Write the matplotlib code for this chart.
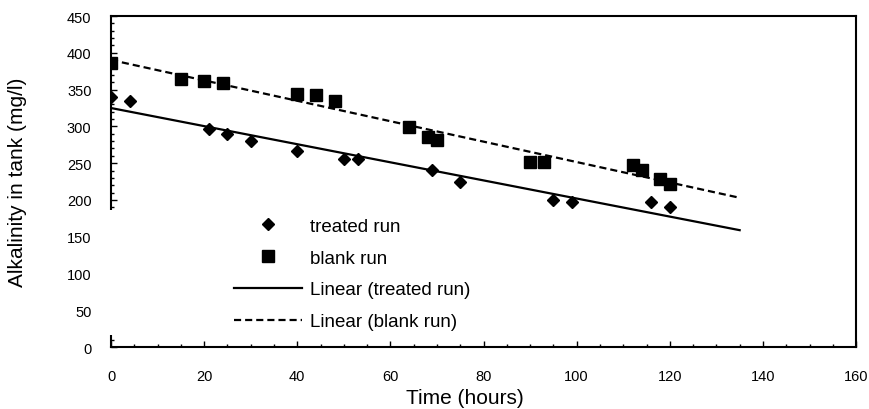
import matplotlib
matplotlib.use("Agg")
import matplotlib.pyplot as plt
import numpy as np
from matplotlib.patches import Rectangle
from matplotlib.ticker import MultipleLocator

plt.rcParams['font.family'] = ['Liberation Sans', 'DejaVu Sans']

# data
treated_t = [0, 4, 21, 25, 30, 40, 50, 53, 69, 75, 95, 99, 116, 120]
treated_alk = [340, 335, 296, 290, 280, 267, 256, 255, 241, 225, 200, 197, 197, 190]
blank_t = [0, 15, 20, 24, 40, 44, 48, 64, 68, 70, 90, 93, 112, 114, 118, 120]
blank_alk = [386, 365, 362, 359, 344, 343, 335, 299, 286, 281, 252, 251, 247, 241, 229, 221]
trend_end = 135  # trendlines are forecast forward to this time

fig = plt.figure(figsize=(8.7, 4.1), dpi=100)
ax = fig.add_axes([0.1276, 0.151, 0.8564, 0.8075])

ax.plot(treated_t, treated_alk, 'D', color='black', markersize=5.8, label='treated run', zorder=4)
ax.plot(blank_t, blank_alk, 's', color='black', markersize=9, label='blank run', zorder=4)

# linear trendlines, as Excel does them
xx = np.array([0, trend_end])
k, b = np.polyfit(treated_t, treated_alk, 1)
ax.plot(xx, k * xx + b, '-', color='black', lw=1.6, label='Linear (treated run)')
k, b = np.polyfit(blank_t, blank_alk, 1)
ax.plot(xx, k * xx + b, '--', color='black', lw=1.6, dashes=(3.2, 1.8), label='Linear (blank run)')

ax.set_xlim(0, 160)
ax.set_ylim(0, 450)
ax.xaxis.set_major_locator(MultipleLocator(20))
ax.xaxis.set_minor_locator(MultipleLocator(5))
ax.yaxis.set_major_locator(MultipleLocator(50))
ax.yaxis.set_minor_locator(MultipleLocator(10))
ax.tick_params(which='both', direction='in', width=1, labelsize=10.5)
ax.tick_params(which='major', length=4)
ax.tick_params(which='minor', length=2.5)
ax.tick_params(axis='x', pad=16)
ax.tick_params(axis='y', pad=14)
for s in ax.spines.values():
    s.set_linewidth(1.5)

ax.set_xlabel('Time (hours)', fontsize=15)
ax.set_ylabel('Alkalinity in tank (mg/l)', fontsize=15)
ax.xaxis.set_label_coords(0.475, -0.124)
ax.yaxis.set_label_coords(-0.113, 0.5)

# white legend area that hides part of the left axis line
ax.add_patch(Rectangle((-0.02, 0.036), 0.06, 0.378, transform=ax.transAxes,
                       facecolor='white', edgecolor='none', clip_on=False, zorder=3))
leg = ax.legend(loc='lower left', bbox_to_anchor=(0.145, 0.006), frameon=False,
                fontsize=13.5, handlelength=3.63, handletextpad=0.43, labelspacing=0.78,
                borderpad=0.3)

fig.savefig('out.png', dpi=100)
